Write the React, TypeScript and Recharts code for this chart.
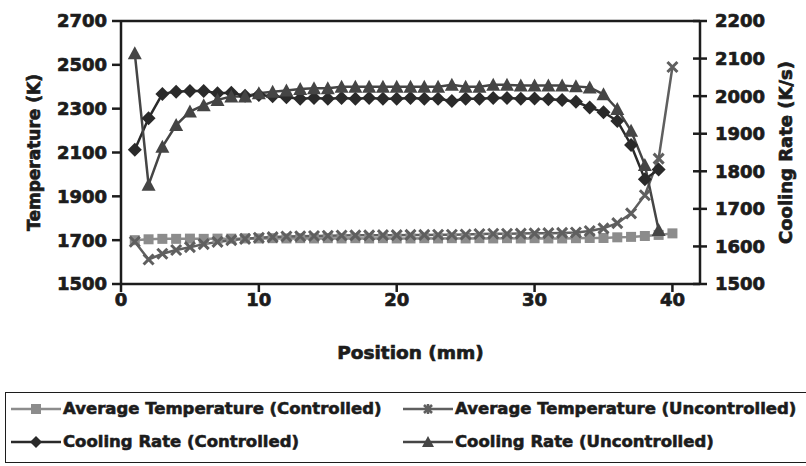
import { ComposedChart, Line, XAxis, YAxis, ReferenceLine } from 'recharts'

const POSITIONS = [1, 2, 3, 4, 5, 6, 7, 8, 9, 10, 11, 12, 13, 14, 15, 16, 17, 18, 19, 20,
  21, 22, 23, 24, 25, 26, 27, 28, 29, 30, 31, 32, 33, 34, 35, 36, 37, 38, 39, 40]

// average temperature, K (left axis)
const AVG_T_CTRL = [1700, 1704, 1706, 1706, 1707, 1706, 1707, 1707, 1708, 1708,
  1709, 1708, 1709, 1708, 1709, 1708, 1709, 1708, 1709, 1708,
  1708, 1709, 1708, 1709, 1708, 1709, 1708, 1709, 1708, 1709,
  1708, 1708, 1709, 1710, 1710, 1713, 1715, 1719, 1724, 1731]
const AVG_T_UNCTRL = [1693, 1612, 1638, 1655, 1668, 1682, 1692, 1700, 1706, 1711,
  1714, 1717, 1718, 1719, 1720, 1721, 1722, 1722, 1723, 1723,
  1724, 1724, 1725, 1725, 1726, 1728, 1729, 1729, 1730, 1731,
  1732, 1733, 1735, 1742, 1754, 1778, 1822, 1905, 2072, 2490]

// cooling rate, K/s (right axis), positions 1..39
const COOL_CTRL = [1857, 1941, 2006, 2012, 2014, 2014, 2008, 2009, 2001, 2003,
  2000, 1997, 1993, 1995, 1993, 1995, 1993, 1995, 1993, 1993,
  1995, 1993, 1993, 1987, 1993, 1993, 1995, 1995, 1993, 1994,
  1992, 1990, 1985, 1970, 1957, 1934, 1870, 1779, 1805]
const COOL_UNCTRL = [2114, 1764, 1865, 1923, 1959, 1976, 1990, 1999, 1999, 2008,
  2012, 2015, 2019, 2021, 2021, 2025, 2025, 2025, 2025, 2025,
  2025, 2025, 2025, 2030, 2025, 2025, 2030, 2030, 2028, 2028,
  2028, 2028, 2026, 2023, 2005, 1966, 1908, 1817, 1644]

const X_TICKS = [0, 10, 20, 30, 40]
const TEMP_TICKS = [1500, 1700, 1900, 2100, 2300, 2500, 2700]
const RATE_TICKS = [1500, 1600, 1700, 1800, 1900, 2000, 2100, 2200]

const FONT = '"DejaVu Sans", Arial, sans-serif'
const INK = '#1c1c1c'
const C_SQ = '#8c8c8c'
const C_X = '#5f5f5f'
const C_DIA = '#2a2a2a'
const C_TRI = '#454545'

const rows = POSITIONS.map((x, i) => ({
  x,
  tc: AVG_T_CTRL[i],
  tu: AVG_T_UNCTRL[i],
  cc: COOL_CTRL[i],
  cu: COOL_UNCTRL[i],
}))

const empty = (p: any) => p.cx == null || p.cy == null || p.value == null

const Square = (p: any) => empty(p) ? <g key={p.index} /> :
  <rect key={p.index} x={p.cx - 5} y={p.cy - 5} width={10} height={10} fill={C_SQ} />

const Cross = (p: any) => empty(p) ? <g key={p.index} /> :
  <path key={p.index} d={`M${p.cx - 5},${p.cy - 5}L${p.cx + 5},${p.cy + 5}M${p.cx + 5},${p.cy - 5}L${p.cx - 5},${p.cy + 5}`}
    stroke={C_X} strokeWidth={3} />

const Diamond = (p: any) => empty(p) ? <g key={p.index} /> :
  <polygon key={p.index} points={`${p.cx},${p.cy - 7} ${p.cx + 7},${p.cy} ${p.cx},${p.cy + 7} ${p.cx - 7},${p.cy}`} fill={C_DIA} />

const Triangle = (p: any) => empty(p) ? <g key={p.index} /> :
  <polygon key={p.index} points={`${p.cx},${p.cy - 7} ${p.cx + 7},${p.cy + 6} ${p.cx - 7},${p.cy + 6}`} fill={C_TRI} />

// heavy type, close to the scanned Helvetica Black look
const heavy = { fontWeight: 700, fill: INK, fontFamily: FONT, stroke: INK, strokeWidth: 0.7 }
const tickStyle = { fontSize: 18, ...heavy }

const RightTick = (p: any) => (
  <g>
    <line x1={p.x - 22} x2={p.x - 15} y1={p.y} y2={p.y} stroke={INK} strokeWidth={2.5} />
    <text x={p.x} y={p.y} dy="0.355em" textAnchor="start" {...tickStyle}>{p.payload.value}</text>
  </g>
)

const LegendIcon = ({ kind, color }: { kind: string; color: string }) => (
  <svg width={50} height={16} style={{ display: 'block' }}>
    <line x1={0} x2={50} y1={8} y2={8} stroke={color} strokeWidth={2.5} />
    {kind === 'sq' && <rect x={20} y={3} width={10} height={10} fill={color} />}
    {kind === 'x' && <path d="M21,4L29,12M29,4L21,12M25,3L25,13" stroke={color} strokeWidth={2.5} />}
    {kind === 'dia' && <polygon points="25,2 31,8 25,14 19,8" fill={color} />}
    {kind === 'tri' && <polygon points="25,2 31,13 19,13" fill={color} />}
  </svg>
)

const LEGEND = [
  { name: 'Average Temperature (Controlled)', kind: 'sq', color: C_SQ, left: 5, top: 11 },
  { name: 'Average Temperature (Uncontrolled)', kind: 'x', color: C_X, left: 397, top: 11 },
  { name: 'Cooling Rate (Controlled)', kind: 'dia', color: C_DIA, left: 5, top: 44 },
  { name: 'Cooling Rate (Uncontrolled)', kind: 'tri', color: C_TRI, left: 397, top: 44 },
]

export default function App() {
  return (
    <div style={{ position: 'absolute', left: 0, top: 0, width: 806, height: 466, background: '#fff', overflow: 'hidden' }}>
      <ComposedChart width={806} height={466} data={rows} margin={{ top: 21, right: 0, left: 0, bottom: 102 }}>
        <XAxis dataKey="x" type="number" domain={[0, 42]} ticks={X_TICKS} height={80}
          tickSize={8} tickMargin={1} tick={tickStyle}
          axisLine={{ stroke: INK, strokeWidth: 2.5 }} tickLine={{ stroke: INK, strokeWidth: 2.5 }}
          label={{
            content: (p: any) => (
              <text x={p.viewBox.x + p.viewBox.width / 2} y={p.viewBox.y + 75} textAnchor="middle"
                fontSize={18.5} {...heavy}>Position (mm)</text>
            ),
          }} />
        <YAxis yAxisId="t" domain={[1500, 2700]} ticks={TEMP_TICKS} width={121}
          tickSize={9} tickMargin={5} tick={tickStyle} interval={0}
          axisLine={{ stroke: INK, strokeWidth: 2.5 }} tickLine={{ stroke: INK, strokeWidth: 2.5 }}
          label={{
            content: (p: any) => {
              const cx = p.viewBox.x + 34
              const cy = p.viewBox.y + p.viewBox.height / 2
              return (
                <text x={cx} y={cy} dy="0.355em" transform={`rotate(-90 ${cx} ${cy})`} textAnchor="middle"
                  fontSize={17} {...heavy}>Temperature (K)</text>
              )
            },
          }} />
        <YAxis yAxisId="r" orientation="right" domain={[1500, 2200]} ticks={RATE_TICKS} width={106}
          tickSize={7} tickMargin={8} tick={RightTick} interval={0}
          axisLine={{ stroke: INK, strokeWidth: 2.5 }} tickLine={{ stroke: INK, strokeWidth: 2.5 }}
          label={{
            content: (p: any) => {
              const cx = p.viewBox.x + 86
              const cy = p.viewBox.y + p.viewBox.height / 2
              return (
                <text x={cx} y={cy} dy="0.355em" transform={`rotate(-90 ${cx} ${cy})`} textAnchor="middle"
                  fontSize={18} {...heavy}>Cooling Rate (K/s)</text>
              )
            },
          }} />
        <ReferenceLine yAxisId="t" y={2700} stroke={INK} strokeWidth={2.5} />
        <Line yAxisId="t" dataKey="tc" stroke={C_SQ} strokeWidth={2.5} dot={Square} activeDot={false} isAnimationActive={false} />
        <Line yAxisId="t" dataKey="tu" stroke={C_X} strokeWidth={2.5} dot={Cross} activeDot={false} isAnimationActive={false} />
        <Line yAxisId="r" dataKey="cc" stroke={C_DIA} strokeWidth={2.5} dot={Diamond} activeDot={false} isAnimationActive={false} />
        <Line yAxisId="r" dataKey="cu" stroke={C_TRI} strokeWidth={2.5} dot={Triangle} activeDot={false} isAnimationActive={false} />
      </ComposedChart>
      <div style={{ position: 'absolute', left: 5, top: 392, width: 803, height: 71, border: `1.5px solid ${INK}`, boxSizing: 'border-box' }}>
        {LEGEND.map(l => (
          <div key={l.name} style={{ position: 'absolute', left: l.left, top: l.top - 3, display: 'flex', alignItems: 'center', whiteSpace: 'nowrap' }}>
            <LegendIcon kind={l.kind} color={l.color} />
            <span style={{ marginLeft: 2, fontFamily: FONT, fontWeight: 700, fontSize: 16.5, color: INK, lineHeight: '16px', WebkitTextStroke: `0.6px ${INK}` }}>{l.name}</span>
          </div>
        ))}
      </div>
    </div>
  )
}
